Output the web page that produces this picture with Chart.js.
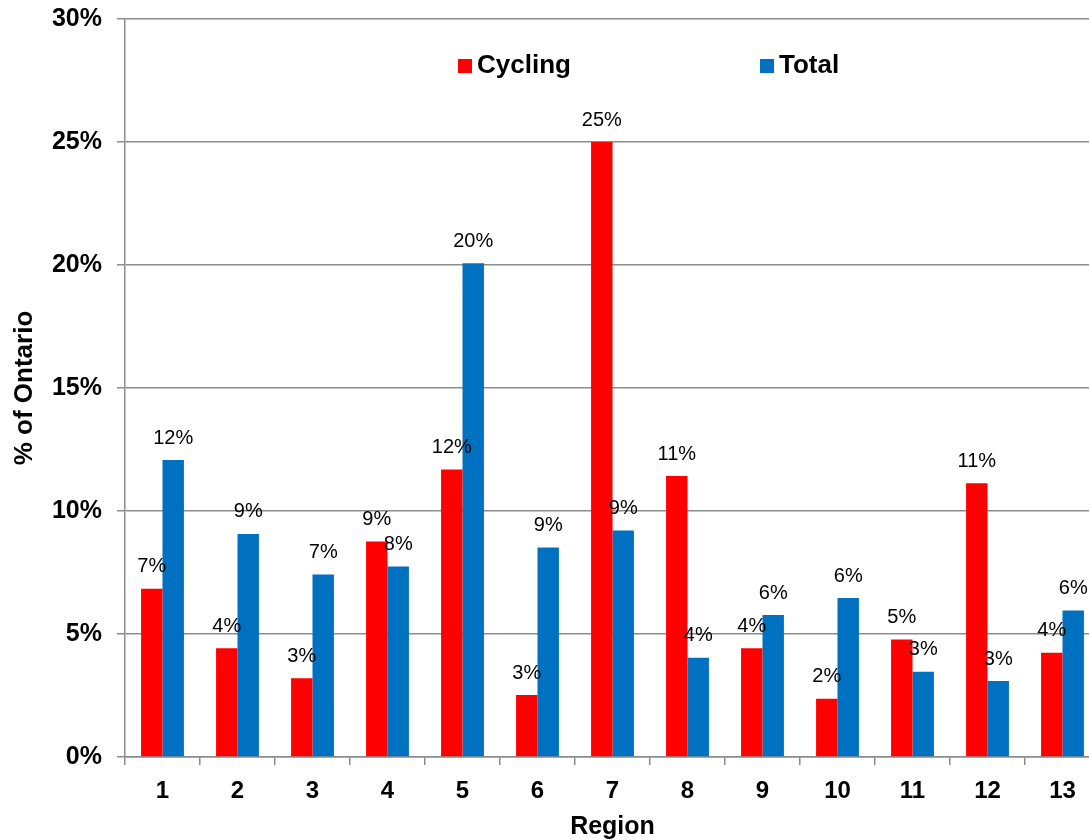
<!DOCTYPE html>
<html>
<head>
<meta charset="utf-8">
<title>Cycling vs Total by Region</title>
<script src="https://cdn.jsdelivr.net/npm/chart.js@4"></script>
<style>
  html, body { margin: 0; padding: 0; background: #fff; overflow: hidden; }
  #wrap { position: absolute; left: 0; top: 0; width: 1110px; height: 840px; }
</style>
</head>
<body>
<div id="wrap"><canvas id="regionChart"></canvas></div>
<script>
const regions = ['1', '2', '3', '4', '5', '6', '7', '8', '9', '10', '11', '12', '13'];
const cycling = [6.84, 4.42, 3.2, 8.76, 11.69, 2.52, 25.0, 11.42, 4.42, 2.37, 4.78, 11.13, 4.24];
const total = [12.07, 9.07, 7.42, 7.74, 20.07, 8.52, 9.21, 4.03, 5.77, 6.46, 3.47, 3.09, 5.96];

const FONT = 'Arial, "Liberation Sans", sans-serif';
const GRID = '#8c8c8c';

// value labels above each bar
const valueLabels = {
    id: 'valueLabels',
    afterDatasetsDraw(chart) {
        const ctx = chart.ctx;
        ctx.save();
        ctx.font = '20px ' + FONT;
        ctx.fillStyle = '#000';
        ctx.textAlign = 'center';
        ctx.textBaseline = 'middle';
        chart.data.datasets.forEach((ds, i) => {
            chart.getDatasetMeta(i).data.forEach((bar, j) => {
                ctx.fillText(Math.round(ds.data[j]) + '%', bar.x, bar.y - 22);
            });
        });
        ctx.restore();
    }
};

// legend drawn inside the plot, items spread apart like the original
const insideLegend = {
    id: 'insideLegend',
    afterDraw(chart) {
        const ctx = chart.ctx;
        const spots = [458, 760];
        ctx.save();
        ctx.font = 'bold 26px ' + FONT;
        ctx.textBaseline = 'middle';
        ctx.textAlign = 'left';
        chart.data.datasets.forEach((ds, i) => {
            const x = spots[i];
            ctx.fillStyle = ds.backgroundColor;
            ctx.fillRect(x, 59, 14, 14);
            ctx.fillStyle = '#000';
            ctx.fillText(ds.label, x + 19, 66);
        });
        ctx.restore();
    }
};

const chart = new Chart(document.getElementById('regionChart'), {
    type: 'bar',
    data: {
        labels: regions,
        datasets: [
            { label: 'Cycling', data: cycling, backgroundColor: '#ff0000' },
            { label: 'Total', data: total, backgroundColor: '#0070c0' }
        ]
    },
    options: {
        responsive: true,
        maintainAspectRatio: false,
        animation: false,
        layout: { padding: { top: 19, right: 10, left: 0, bottom: 0 } },
        categoryPercentage: 2 / 3.5,
        barPercentage: 1.0,
        plugins: {
            legend: { display: false },
            tooltip: { enabled: false }
        },
        scales: {
            x: {
                grid: { drawOnChartArea: false, drawTicks: true, tickLength: 8, color: GRID, lineWidth: 1.5 },
                border: { color: GRID, width: 1.5 },
                ticks: { color: '#000', font: { family: FONT, size: 24, weight: 'bold' }, padding: 12 },
                title: {
                    display: true, text: 'Region', color: '#000',
                    font: { family: FONT, size: 25, weight: 'bold', lineHeight: 1 },
                    padding: { top: 0, bottom: 0 }
                },
                afterFit(scale) { scale.height = 83; }
            },
            y: {
                min: 0,
                max: 30,
                ticks: {
                    stepSize: 5, color: '#000', padding: 15,
                    font: { family: FONT, size: 25, weight: 'bold' },
                    callback: v => v + '%'
                },
                grid: { color: GRID, lineWidth: 1.5, tickLength: 8 },
                border: { color: GRID, width: 1.5 },
                title: {
                    display: true, text: '% of Ontario', color: '#000',
                    font: { family: FONT, size: 26, weight: 'bold', lineHeight: 1 },
                    padding: { top: 12, bottom: 0 }
                },
                afterFit(scale) {
                    scale.width = 125;
                    scale.paddingTop = 0;
                    scale.paddingBottom = 0;
                }
            }
        }
    },
    plugins: [valueLabels, insideLegend]
});
</script>
</body>
</html>
